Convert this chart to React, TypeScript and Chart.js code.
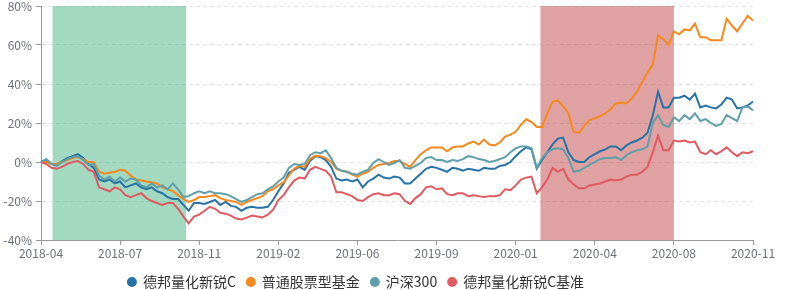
import React, { useEffect, useRef } from 'react';
import { Chart, registerables } from 'chart.js';

Chart.register(...registerables);

const tickLabels = ['2018-04', '2018-07', '2018-11', '2019-02', '2019-06', '2019-09', '2020-01', '2020-04', '2020-08', '2020-11'];
const tickEvery = 15;

const seriesNames = ['德邦量化新锐C', '普通股票型基金', '沪深300', '德邦量化新锐C基准'];
const seriesColors = ['#2773a6', '#f5891e', '#609ea8', '#e05a61'];

const fundC = [
  0, 1, -1, -1.5, 0.5, 2, 3, 4, 2, -1,
  -3, -9, -10, -9, -11, -10, -13, -12, -11, -13,
  -14, -13, -15, -16, -18, -19, -19, -22, -25, -21,
  -21, -21.5, -20.5, -19.5, -22, -20.5, -22.5, -23, -25, -23.5,
  -23, -23.5, -23.5, -23, -19.5, -15, -11, -5.5, -4, -2.5,
  -4, 0.5, 3, 2.5, 1, -2.5, -8.5, -9.5, -9, -10,
  -9, -13, -10, -8.5, -6.5, -8, -8.5, -7.5, -8, -11,
  -11, -8.5, -6, -3.5, -2.5, -3, -4, -5, -3, -3.5,
  -4.5, -3.5, -4, -4.5, -3, -3.5, -3.5, -2, -1.5, 0,
  3, 5.5, 7.5, 6.5, -3.5, 1, 5, 9, 12, 12.5,
  5, 1, 0, 0, 2.5, 4, 5.5, 6.5, 8, 8,
  6, 8.5, 10, 11, 12.5, 15, 24, 36, 28, 28,
  33, 33, 34, 32, 35, 28, 29, 28, 27.5, 29.5,
  33, 32, 27.5, 28, 29, 31,
];

const stockFunds = [
  0, 0, -1, -1, 0, 1, 2, 2.5, 1.5, 0,
  0, -5, -6, -5.5, -5, -4, -4.5, -7, -9, -9.5,
  -10, -10.5, -11, -13, -14, -15, -17, -19, -20.5, -19.5,
  -18, -18, -17.5, -17, -18.5, -19.5, -20, -20.5, -22, -20.5,
  -19.5, -18.5, -17.5, -15, -14, -12, -10.5, -7, -3.5, -2,
  -2.5, 1.5, 3.2, 3, 2, 0, -3.5, -4.5, -5, -6.5,
  -7.5, -6, -5, -3, -1.5, -1, -0.5, 0.5, 0.5, -1,
  -2.5, 1, 4, 6, 7.5, 7.5, 7.5, 5.5, 7.5, 8,
  8, 9.5, 10.5, 9, 11.5, 9, 8.5, 10, 13, 14,
  15.5, 19, 22, 20.5, 18, 18, 25, 31, 31.5, 28.5,
  25, 15.5, 15, 18.5, 21.5, 22.3, 23.5, 25, 27, 30,
  30.5, 30, 32.5, 36, 41, 46, 50, 65, 63, 60,
  67, 65.5, 68, 67.5, 71, 64, 64, 62.5, 62.5, 62.5,
  73.5, 70, 67, 71, 75, 72.5,
];

const hs300 = [
  0, 1.5, -1, -2, 0, 1.5, 2.5, 3, 1, -1.5,
  -1, -7, -9, -7.5, -10, -8, -10, -8.5, -9, -12,
  -13, -11, -13, -12, -14, -11, -14, -18, -17.5, -16,
  -15, -16, -15, -16, -16, -16.5, -17.5, -19, -20.5, -19.5,
  -18, -16.5, -16, -14, -12.5, -10, -8, -3, -1, -1.5,
  -1, 3.5, 5, 4.5, 6, 2, -3, -4.5, -5, -6,
  -6.5, -5, -4, -0.5, 1.5, 0, -1.5, -0.5, 1, -3,
  -3.5, -2, -0.5, 2, 2.5, 1, 1, 0, 1, 0.5,
  1.5, 3, 2.5, 1.5, 1, 0, 0.5, 1.5, 2.5, 5,
  7, 8, 8, 7, -3, 2, 5, 6.5, 7, 6.5,
  2, -5, -4.5, -3, -1.5, 0, 1.5, 2, 2, 2.5,
  1, 3.5, 5, 6, 6.5, 8, 20, 24, 19, 18,
  23, 21, 24, 22, 25, 21, 22, 20, 18.5, 19.5,
  24, 22.5, 21, 28, 28.5, 26.5,
];

const benchmark = [
  0, -1, -3, -3.5, -2.5, -1, 0, 0.5, -1, -4,
  -5, -13, -14, -15, -13, -14, -17, -18, -17, -16,
  -18.5, -20, -21, -22, -21, -21, -24, -28, -31.5, -28,
  -27, -25, -23, -24, -26, -26.5, -27.5, -29, -29.5, -28.5,
  -27.5, -28, -28.5, -27, -24.5, -19.5, -17, -13, -9.5, -8,
  -8.5, -4, -2.5, -3.5, -4.5, -7.5, -15.5, -15.5, -16.5, -17.5,
  -19.5, -20, -18, -16.5, -16, -17, -17, -16, -16.5, -20,
  -21.5, -18.5, -16.5, -13, -12.5, -14, -13.5, -16.5, -17, -16,
  -16, -17.5, -17, -17.5, -18, -17.5, -17.5, -17, -14, -14.5,
  -12, -9, -8, -7.5, -16, -13, -9, -3, -5, -3.5,
  -9, -11.5, -13.5, -13.5, -12, -11.5, -11, -10, -9, -9.5,
  -9, -7.5, -6.5, -6.5, -5, -2.5, 5, 13.5, 6, 6,
  11, 10.5, 11, 10, 10.5, 5, 4, 6, 4, 5.5,
  7.5, 5, 3, 5, 4.5, 5.5,
];

const bandRanges = [
  { from: 2.2, to: 27.5, color: 'rgba(71,177,131,0.5)' },
  { from: 94.7, to: 120, color: 'rgba(193,67,71,0.5)' },
];

const categories = fundC.map((_, i) => (i % tickEvery === 0 ? tickLabels[i / tickEvery] : 'p' + i));

const FONT = "'Microsoft YaHei', 'Noto Sans CJK SC', sans-serif";

const bandPlugin = {
  id: 'bands',
  beforeDatasetsDraw(chart: any) {
    const { ctx, chartArea, scales } = chart;
    const x = scales.x;
    bandRanges.forEach((b) => {
      const x0 = x.getPixelForValue(b.from);
      const x1 = x.getPixelForValue(b.to);
      ctx.save();
      ctx.fillStyle = b.color;
      ctx.fillRect(x0, chartArea.top, x1 - x0, chartArea.bottom - chartArea.top);
      ctx.restore();
    });
  },
};

const LEGEND_H = 26;
const legendPlugin = {
  id: 'legendFit',
  beforeLayout(chart: any) {
    const lg = chart.legend;
    if (lg && !lg._patchedFit) {
      const f = lg.fit.bind(lg);
      lg.fit = () => {
        f();
        lg.height = LEGEND_H;
      };
      lg._patchedFit = true;
    }
  },
  afterLayout(chart: any) {
    const lg = chart.legend;
    if (lg) {
      lg.left = 0;
      lg.right = 712;
    }
  },
};

export default function App() {
  const ref = useRef<HTMLCanvasElement | null>(null);
  useEffect(() => {
    if (!ref.current) return;
    const data = [fundC, stockFunds, hs300, benchmark];
    const chart = new Chart(ref.current, {
      type: 'line',
      data: {
        labels: categories,
        datasets: data.map((d, i) => ({
          label: seriesNames[i],
          data: d,
          borderColor: seriesColors[i],
          backgroundColor: seriesColors[i],
          borderWidth: 2,
          pointRadius: 0,
          tension: 0,
          fill: false,
          order: 4 - i,
        })),
      },
      options: {
        responsive: false,
        animation: false,
        layout: { padding: { left: 0, right: 38, top: 6, bottom: 0 } },
        plugins: {
          tooltip: { enabled: false },
          legend: {
            position: 'bottom',
            labels: {
              usePointStyle: true,
              pointStyle: 'circle',
              boxWidth: 8,
              boxHeight: 7,
              padding: 11,
              color: '#333',
              font: { size: 14, family: FONT },
              sort: (a: any, b: any) => a.datasetIndex - b.datasetIndex,
              generateLabels: (c: any) =>
                (Chart.defaults.plugins.legend.labels as any).generateLabels(c).map((l: any) => ({ ...l, lineWidth: 0 })),
            },
          },
        },
        scales: {
          x: {
            type: 'category',
            offset: false,
            grid: { display: true, drawOnChartArea: false, drawTicks: true, tickLength: 5, tickColor: '#999' },
            border: { display: true, color: '#999', width: 1 },
            ticks: { autoSkip: false, maxRotation: 0, minRotation: 0, color: '#6e7079', padding: 2, font: { size: 12, family: FONT, lineHeight: 1 } },
            afterBuildTicks: (s: any) => {
              s.ticks = s.ticks.filter((t: any) => t.value % tickEvery === 0);
            },
            afterFit: (s: any) => {
              s.height = 24;
            },
          },
          y: {
            min: -40,
            max: 80,
            grid: { color: '#e3e3e3', tickColor: '#999', tickLength: 5, lineWidth: 1 },
            border: { display: true, color: '#999', width: 1, dash: [4, 3] },
            ticks: {
              stepSize: 20,
              color: '#6e7079',
              padding: 4,
              font: { size: 12, family: FONT, lineHeight: 1 },
              callback: (v: any) => v + '%',
            },
            afterFit: (s: any) => {
              s.width = 41;
              s.paddingTop = 0;
              s.paddingBottom = 0;
            },
          },
        },
      },
      plugins: [bandPlugin, legendPlugin],
    } as any);
    return () => chart.destroy();
  }, []);
  return (
    <div style={{ position: 'absolute', left: 0, top: 0, width: 791, height: 290, background: '#fff' }}>
      <canvas ref={ref} width={791} height={290} style={{ display: 'block' }} />
    </div>
  );
}
